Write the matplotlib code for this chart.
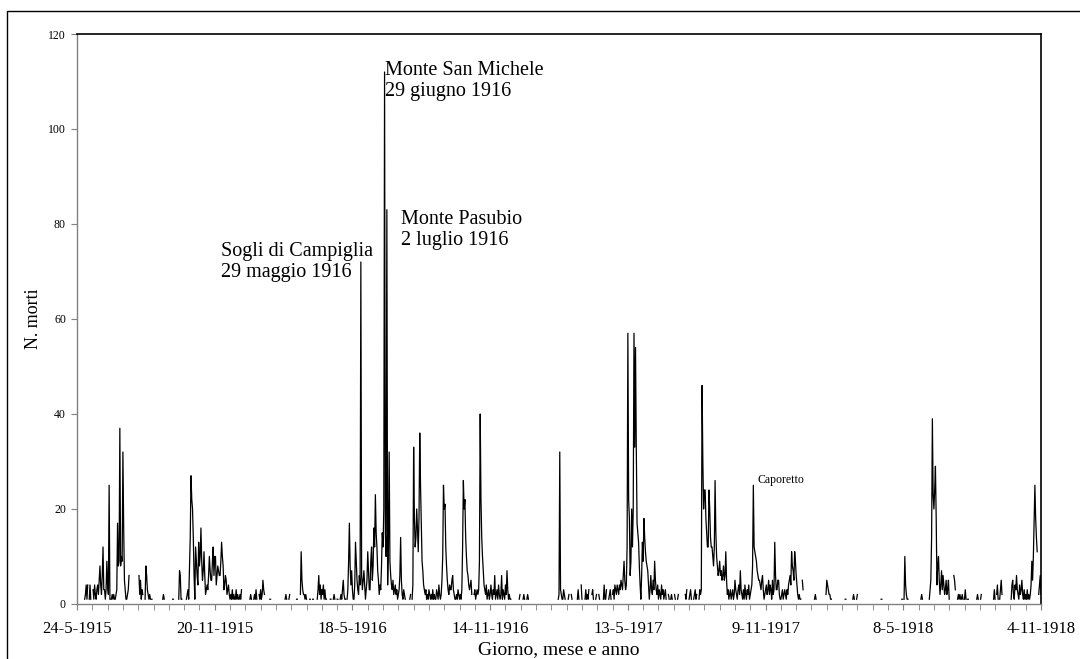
"""Caduti giornalieri, 24-5-1915 / 4-11-1918."""

import matplotlib

matplotlib.use("Agg")

import matplotlib.pyplot as plt
import numpy as np
import pandas as pd
from matplotlib.patches import Rectangle

inizio = pd.Timestamp("1915-05-24")
fine = pd.Timestamp("1918-11-04")

# (giorno dal 24-5-1915, morti nei giorni consecutivi); tra un tratto e l'altro nessun dato
tratti_1915 = [
    (10, [1, 2, 4, 1, 4]),
    (16, [1, 4, 1]),
    (21, [3, 1, 4, 2, 1, 3, 4, 2, 5, 8,
          4, 2, 6, 12, 3, 3, 1, 3, 9, 4,
          2, 25, 1, 1, 1, 2, 1, 2, 1, 1,
          2, 3, 17, 8, 9, 37, 8, 10, 9, 32,
          16, 5, 3, 1, 1, 2, 3, 6]),
    (81, [6, 2, 5, 1, 3, 2]),
    (89, [1, 8, 6, 3, 2, 1, 2, 1, 1, 1]),
    (112, [1, 2, 1]),
    (125, [1, 1]),
    (133, [1, 7, 6, 1, 1]),
    (143, [1, 2, 3, 1, 8, 14, 27, 22, 20, 14,
           6, 1, 12, 9, 6, 4, 13, 8, 10, 16,
           9, 5, 7, 11, 6, 2, 3, 4, 3, 6,
           10, 7, 5, 5, 9, 12, 6, 10, 10, 4,
           6, 8, 7, 6, 6, 9, 13, 10, 8, 3,
           4, 6, 5, 2, 3, 4, 2, 1, 2, 1,
           3, 1, 2, 1, 1, 3, 1, 2, 1, 1, 2, 1, 3]),
]

tratti_1916 = [
    (226, [1, 2, 1]),
    (231, [1, 2, 1, 3, 1]),
    (238, [2, 1, 3, 1, 2, 5, 3, 2]),
    (252, [1, 1]),
    (272, [1, 2, 1]),
    (277, [1, 2]),
    (287, [1, 1]),
    (292, [2, 11, 5, 3, 2, 2, 1, 2, 1]),
    (304, [1, 1]),
    (308, [1, 1]),
    (314, [1, 3, 6, 2, 4, 1, 3, 2, 4, 1, 3, 1, 1]),
    (331, [1, 1]),
    (335, [1, 2, 1]),
    (340, [1, 1]),
    (344, [1, 2, 1, 3, 5, 2, 1, 1]),
    (353, [1, 3, 9, 17, 8, 4, 7, 3, 1, 1,
           4, 13, 9, 5, 3, 2, 6, 4, 72, 6,
           3, 5, 7, 4, 1, 3, 5, 11, 7, 3,
           3, 9, 12, 5, 8, 16, 12, 23, 15, 12,
           7, 5, 2, 4, 3, 8, 15, 12, 20, 112,
           15, 10, 83, 4, 12, 32, 9, 6, 4, 3,
           5, 2, 3, 4, 2, 3, 1, 2, 3, 6,
           14, 5, 2, 1, 3, 2, 1]),
    (432, [1]),
    (435, [1, 2]),
    (438, [1, 4, 33, 18, 12, 14, 20, 16, 11, 18,
           36, 25, 17, 9, 7, 4, 3, 2, 3, 1,
           2, 1, 3, 2, 1, 2, 1, 3, 1, 2,
           1, 1, 3, 2, 1, 4, 2, 1, 2, 5,
           10, 25, 20, 21, 12, 8, 5, 3, 2, 4,
           3, 3, 5, 6, 3, 2, 1, 1, 2, 1,
           3, 2, 1, 2, 1, 3, 12, 26, 20, 22,
           14, 10, 7, 6, 4, 3, 4, 5, 2]),
    (519, [2, 3, 1, 2, 3, 2, 3, 9, 40, 22,
           14, 10, 7, 4, 3, 2, 4, 1, 2, 3,
           1, 2, 4, 2, 1, 3, 2, 6, 1, 2,
           3, 1, 4, 2, 1, 2, 6, 1, 3, 2,
           1, 4, 2, 7, 3, 1, 2, 1, 1]),
    (575, [1]),
    (578, [1, 2]),
    (583, [1, 2, 1]),
    (588, [1, 2, 1]),
]

tratti_1917 = [
    (614, [1]),
    (629, [1, 2, 32, 3, 2, 1, 1, 3, 2, 1]),
    (642, [1, 2]),
    (646, [2, 1]),
    (654, [1, 3, 1]),
    (659, [4, 1]),
    (664, [1, 3, 1, 2, 1, 3]),
    (673, [2, 3, 1]),
    (678, [1, 2]),
    (682, [2, 1]),
    (688, [1, 4, 1, 1, 3]),
    (695, [1, 2, 3, 1]),
    (700, [2, 3, 1, 4, 3, 2, 4, 3, 2, 4,
           3, 5, 4, 3, 6, 9, 5, 3, 4, 12,
           57, 22, 18, 6, 9, 20, 12, 20, 57, 33,
           54, 33, 17, 15, 13, 8, 4, 1, 6, 13,
           9, 18, 14, 11, 9, 8, 7, 4, 1, 3,
           6, 3, 2, 5, 3, 9, 5, 3, 2, 4,
           1, 3, 2, 1, 4, 2, 3, 1, 2, 3, 1]),
    (773, [2, 1]),
    (776, [1, 2, 1]),
    (781, [2, 1]),
    (785, [1, 2]),
    (795, [2, 1, 3]),
    (800, [1, 2, 3, 1]),
    (806, [1, 2, 3, 1, 2]),
    (813, [1, 3, 2, 3, 46, 30, 20, 24, 24, 18,
           15, 12, 12, 24, 20, 14, 12, 12, 10, 8,
           12, 26, 15, 10, 8, 6, 7, 9, 6, 7,
           5, 6, 8, 5, 6, 11, 5, 2, 3, 1,
           2, 3, 1, 2, 3, 1, 2, 5, 3, 2,
           1, 3, 4, 2, 7, 3, 2, 1, 3, 1,
           4, 2, 1, 3, 2, 4, 1, 2, 3, 4,
           8, 25, 12, 11, 10, 9, 7, 6, 5, 5,
           4, 3, 5, 6, 3, 1, 2, 3, 4, 2,
           3, 5, 2, 4, 3, 1, 5, 2, 3, 13,
           6, 3, 3, 5, 5, 2, 1, 1, 2, 3,
           1, 2, 3, 2, 1, 3, 2, 4, 5, 6,
           4, 11, 8, 7, 5, 11, 9, 6, 4, 2,
           1, 2, 1, 1]),
    (948, [5, 3]),
]

tratti_1918 = [
    (964, [1, 2, 1]),
    (972, [1]),
    (979, [2, 5, 4, 3, 2, 2, 1, 1]),
    (1004, [1, 1]),
    (1014, [1, 2, 1]),
    (1019, [1, 2]),
    (1051, [1, 1]),
    (1078, [1, 1]),
    (1081, [1, 10, 4, 2, 1, 1]),
    (1103, [1, 2, 1]),
    (1114, [1, 3, 5, 14, 39, 23, 20, 24, 29, 18,
            4, 8, 10, 5, 2, 4, 7, 3, 6, 4,
            2, 3, 5, 2, 3, 5, 1]),
    (1146, [6, 5, 3]),
    (1151, [1, 2, 1, 2, 1, 1, 2, 1]),
    (1160, [1, 3, 1]),
    (1164, [1, 1]),
    (1167, [1]),
    (1176, [1, 2, 1]),
    (1181, [1, 2]),
    (1198, [1, 3, 1]),
    (1202, [2, 4, 1]),
    (1206, [1, 3, 5, 2]),
    (1221, [1, 4, 5, 2, 1, 4, 3, 6, 3, 2,
            1, 4, 2, 3, 5, 2, 1, 3, 1, 2,
            1, 3, 1, 2, 1, 2, 4, 9, 5, 10,
            18, 25, 18, 14, 11]),
    (1257, [2, 4, 6, 2]),
]

eventi = ["Sogli di Campiglia\n29 maggio 1916",
          "Monte San Michele\n29 giugno 1916",
          "Monte Pasubio\n2 luglio 1916"]
eventi_giorno = [188, 403, 424]
eventi_quota = [76.2, 114.3, 82.9]

plt.rcParams["font.family"] = ["Liberation Serif", "DejaVu Serif"]

giorni, morti = [], []
for start, valori in tratti_1915 + tratti_1916 + tratti_1917 + tratti_1918:
    giorni.extend(range(start, start + len(valori)))
    morti.extend(valori)
    giorni.append(start + len(valori))
    morti.append(np.nan)

date = inizio + pd.to_timedelta(giorni, unit="D")
serie = pd.Series(morti, index=date)

fig = plt.figure(figsize=(10.8, 6.59), dpi=100)
ax = fig.add_axes([0.0713, 0.0835, 0.8926, 0.8649])

ax.plot(serie.index, serie.values, color="black", lw=0.9)

ax.set_xlim(inizio, fine)
ax.set_ylim(0, 120)
ax.set_yticks(range(0, 121, 20))

etichette = pd.date_range(inizio, fine, freq="180D")
ax.set_xticks(etichette)
ax.set_xticklabels([f"{d.day}-{d.month}-{d.year}" for d in etichette])
ax.set_xticks(pd.date_range(inizio, fine, freq="20D"), minor=True)

ax.tick_params(axis="x", which="both", direction="out", length=4, color="#808080",
               labelsize=12, pad=8)
ax.tick_params(axis="y", direction="out", length=4, color="#808080",
               labelsize=8.5, pad=4)

for lato in ("left", "bottom"):
    ax.spines[lato].set_color("#808080")
    ax.spines[lato].set_linewidth(1)
for lato in ("top", "right"):
    ax.spines[lato].set_color("black")
    ax.spines[lato].set_linewidth(1.2)

ax.set_ylabel("N. morti", fontsize=13)
ax.yaxis.set_label_coords(-0.036, 0.5)
ax.set_xlabel("Giorno, mese e anno", fontsize=14)
ax.xaxis.set_label_coords(0.5, -0.066)

for testo, g, q in zip(eventi, eventi_giorno, eventi_quota):
    ax.text(inizio + pd.Timedelta(days=g), q, testo, ha="left", va="top",
            fontsize=14.5, linespacing=1.12)

ax.text(inizio + pd.Timedelta(days=889), 26, "Caporetto", ha="left", va="center",
        fontsize=8.5)

fig.patches.append(Rectangle((0.0065, -0.05), 1.1, 1.0333, transform=fig.transFigure,
                             fill=False, edgecolor="black", lw=1))

fig.savefig("out.png", dpi=100)
plt.close(fig)
